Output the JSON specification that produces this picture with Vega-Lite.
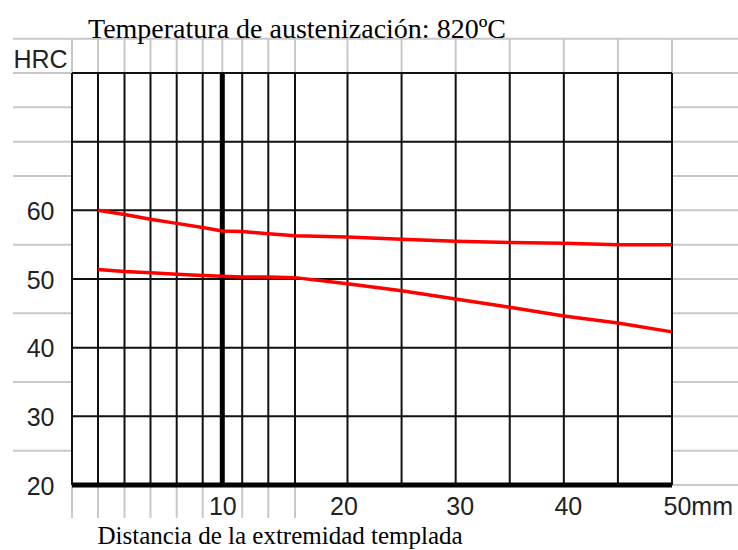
{
  "$schema": "https://vega.github.io/schema/vega-lite/v6.json",
  "width": 600,
  "height": 412,
  "autosize": "none",
  "padding": {"left": 72, "top": 73, "right": 66, "bottom": 65},
  "background": "white",
  "title": {
    "text": "Temperatura de austenización: 820ºC",
    "font": "Liberation Serif",
    "fontSize": 28,
    "fontWeight": "normal",
    "color": "black",
    "anchor": "start",
    "frame": "group",
    "dx": 16,
    "baseline": "alphabetic",
    "offset": -28
  },
  "config": {"view": {"stroke": null}},
  "datasets": {
    "hgray": [
      {"y": 85, "x1": -2, "x2": 56}, {"y": 80, "x1": -2, "x2": 56}, {"y": 75, "x1": -2, "x2": 56},
      {"y": 70, "x1": -2, "x2": 56}, {"y": 65, "x1": -2, "x2": 56}, {"y": 55, "x1": -2, "x2": 56},
      {"y": 45, "x1": -2, "x2": 56}, {"y": 35, "x1": -2, "x2": 56}, {"y": 25, "x1": -2, "x2": 56},
      {"y": 60, "x1": 0, "x2": 56}, {"y": 50, "x1": 0, "x2": 56}, {"y": 40, "x1": 0, "x2": 56},
      {"y": 30, "x1": 0, "x2": 56}, {"y": 20, "x1": 0, "x2": 56}
    ],
    "vtop": [
      {"x": 0}, {"x": 1.5}, {"x": 3}, {"x": 5}, {"x": 7}, {"x": 9}, {"x": 10}, {"x": 11},
      {"x": 13}, {"x": 15}, {"x": 20}, {"x": 25}, {"x": 30}, {"x": 35}, {"x": 40}, {"x": 45}, {"x": 50}
    ],
    "vbottom": [
      {"x": 0}, {"x": 1.5}, {"x": 3}, {"x": 5}, {"x": 7}, {"x": 9}, {"x": 11}, {"x": 13}, {"x": 15}
    ],
    "vblack": [
      {"x": 0}, {"x": 1.5}, {"x": 3}, {"x": 5}, {"x": 7}, {"x": 9}, {"x": 11},
      {"x": 13}, {"x": 15}, {"x": 20}, {"x": 25}, {"x": 30}, {"x": 35}, {"x": 40}, {"x": 45}, {"x": 50}
    ],
    "hblack": [{"y": 30}, {"y": 40}, {"y": 50}, {"y": 60}, {"y": 70}, {"y": 80}],
    "box": [{"x1": 0, "x2": 50, "y1": 20, "y2": 80}],
    "curves": [
      {"s": "A", "x": 1.5, "hrc": 60.0}, {"s": "A", "x": 3, "hrc": 59.4}, {"s": "A", "x": 5, "hrc": 58.7},
      {"s": "A", "x": 7, "hrc": 58.1}, {"s": "A", "x": 9, "hrc": 57.5}, {"s": "A", "x": 10, "hrc": 57.0},
      {"s": "A", "x": 11, "hrc": 56.9}, {"s": "A", "x": 13, "hrc": 56.6}, {"s": "A", "x": 15, "hrc": 56.3},
      {"s": "A", "x": 20, "hrc": 56.1}, {"s": "A", "x": 25, "hrc": 55.8}, {"s": "A", "x": 30, "hrc": 55.5},
      {"s": "A", "x": 35, "hrc": 55.3}, {"s": "A", "x": 40, "hrc": 55.2}, {"s": "A", "x": 45, "hrc": 55.0},
      {"s": "A", "x": 50, "hrc": 55.0},
      {"s": "B", "x": 1.5, "hrc": 51.4}, {"s": "B", "x": 3, "hrc": 51.1}, {"s": "B", "x": 5, "hrc": 50.9},
      {"s": "B", "x": 7, "hrc": 50.7}, {"s": "B", "x": 9, "hrc": 50.5}, {"s": "B", "x": 10, "hrc": 50.4},
      {"s": "B", "x": 11, "hrc": 50.3}, {"s": "B", "x": 13, "hrc": 50.3}, {"s": "B", "x": 15, "hrc": 50.2},
      {"s": "B", "x": 20, "hrc": 49.3}, {"s": "B", "x": 25, "hrc": 48.3}, {"s": "B", "x": 30, "hrc": 47.1},
      {"s": "B", "x": 35, "hrc": 45.9}, {"s": "B", "x": 40, "hrc": 44.6}, {"s": "B", "x": 45, "hrc": 43.6},
      {"s": "B", "x": 50, "hrc": 42.3}
    ]
  },
  "resolve": {"scale": {"x": "shared", "y": "shared"}},
  "encoding": {
    "x": {
      "type": "quantitative",
      "scale": {
        "domain": [-2, 0, 1.5, 3, 5, 7, 9, 10, 11, 13, 15, 20, 50, 56],
        "range": [-59, 0, 26, 52.5, 78.5, 104.7, 130.7, 150.3, 170.2, 196.3, 223, 275.5, 600, 666],
        "nice": false, "zero": false, "clamp": false
      }
    },
    "y": {
      "type": "quantitative",
      "scale": {"domain": [20, 80], "nice": false, "zero": false, "clamp": false}
    }
  },
  "layer": [
    {
      "data": {"name": "hgray"},
      "mark": {"type": "rule", "color": "#c8c8c8", "strokeWidth": 2},
      "encoding": {
        "x": {"field": "x1", "type": "quantitative",
          "axis": {"values": [10, 20, 30, 40, 50], "grid": false, "ticks": false, "tickSize": 0, "domain": false,
            "labelFont": "Liberation Sans", "labelFontSize": 25, "labelColor": "#222222",
            "labelBaseline": "alphabetic", "labelPadding": 29, "labelFlush": false, "labelOverlap": false,
            "labelExpr": "datum.value == 50 ? '50mm' : datum.label",
            "labelAlign": {"condition": {"test": "datum.value == 50", "value": "left"}, "value": "center"},
            "labelOffset": {"condition": [
              {"test": "datum.value == 50", "value": -9},
              {"test": "datum.value == 20", "value": -4},
              {"test": "datum.value >= 30", "value": 4}
            ], "value": 0},
            "title": "Distancia de la extremidad templada",
            "titleFont": "Liberation Serif", "titleFontSize": 25, "titleFontWeight": "normal", "titleColor": "black",
            "titleAlign": "left", "titleBaseline": "alphabetic", "titleAnchor": "start", "titleX": 25, "titleY": 58}},
        "x2": {"field": "x2"},
        "y": {"field": "y", "type": "quantitative",
          "axis": {"values": [20, 30, 40, 50, 60], "grid": false, "ticks": false, "tickSize": 0, "domain": false,
            "labelFont": "Liberation Sans", "labelFontSize": 25, "labelColor": "#222222",
            "labelBaseline": "alphabetic", "labelOffset": 9, "labelPadding": 18, "labelFlush": false, "labelOverlap": false,
            "title": "HRC", "titleFont": "Liberation Sans", "titleFontSize": 25, "titleFontWeight": "normal", "titleColor": "#222222",
            "titleAngle": 0, "titleAlign": "left", "titleBaseline": "alphabetic", "titleX": -59, "titleY": -6}}
      }
    },
    {
      "data": {"name": "vtop"},
      "mark": {"type": "rule", "color": "#c8c8c8", "strokeWidth": 2},
      "encoding": {
        "x": {"field": "x", "type": "quantitative"},
        "y": {"datum": 85, "type": "quantitative"},
        "y2": {"datum": 80}
      }
    },
    {
      "data": {"name": "vbottom"},
      "mark": {"type": "rule", "color": "#c8c8c8", "strokeWidth": 2},
      "encoding": {
        "x": {"field": "x", "type": "quantitative"},
        "y": {"datum": 20, "type": "quantitative"},
        "y2": {"datum": 15.2}
      }
    },
    {
      "data": {"name": "box"},
      "mark": {"type": "rect", "color": "white"},
      "encoding": {
        "x": {"field": "x1", "type": "quantitative"},
        "x2": {"field": "x2"},
        "y": {"field": "y1", "type": "quantitative"},
        "y2": {"field": "y2"}
      }
    },
    {
      "data": {"name": "hblack"},
      "mark": {"type": "rule", "color": "#111111", "strokeWidth": 2},
      "encoding": {
        "x": {"datum": 0, "type": "quantitative"},
        "x2": {"datum": 50},
        "y": {"field": "y", "type": "quantitative"}
      }
    },
    {
      "data": {"name": "vblack"},
      "mark": {"type": "rule", "color": "#111111", "strokeWidth": 2},
      "encoding": {
        "x": {"field": "x", "type": "quantitative"},
        "y": {"datum": 20, "type": "quantitative"},
        "y2": {"datum": 80}
      }
    },
    {
      "data": {"values": [{"x": 10}]},
      "mark": {"type": "rule", "color": "black", "strokeWidth": 5},
      "encoding": {
        "x": {"field": "x", "type": "quantitative"},
        "y": {"datum": 20, "type": "quantitative"},
        "y2": {"datum": 80}
      }
    },
    {
      "data": {"values": [{"y": 20}]},
      "mark": {"type": "rule", "color": "black", "strokeWidth": 5},
      "encoding": {
        "x": {"datum": 0, "type": "quantitative"},
        "x2": {"datum": 50},
        "y": {"field": "y", "type": "quantitative"}
      }
    },
    {
      "data": {"name": "curves"},
      "mark": {"type": "line", "strokeWidth": 3.5},
      "encoding": {
        "x": {"field": "x", "type": "quantitative"},
        "y": {"field": "hrc", "type": "quantitative"},
        "color": {"field": "s", "type": "nominal", "scale": {"domain": ["A", "B"], "range": ["#ff0000", "#ff0000"]}, "legend": null},
        "detail": {"field": "s"}
      }
    }
  ]
}
